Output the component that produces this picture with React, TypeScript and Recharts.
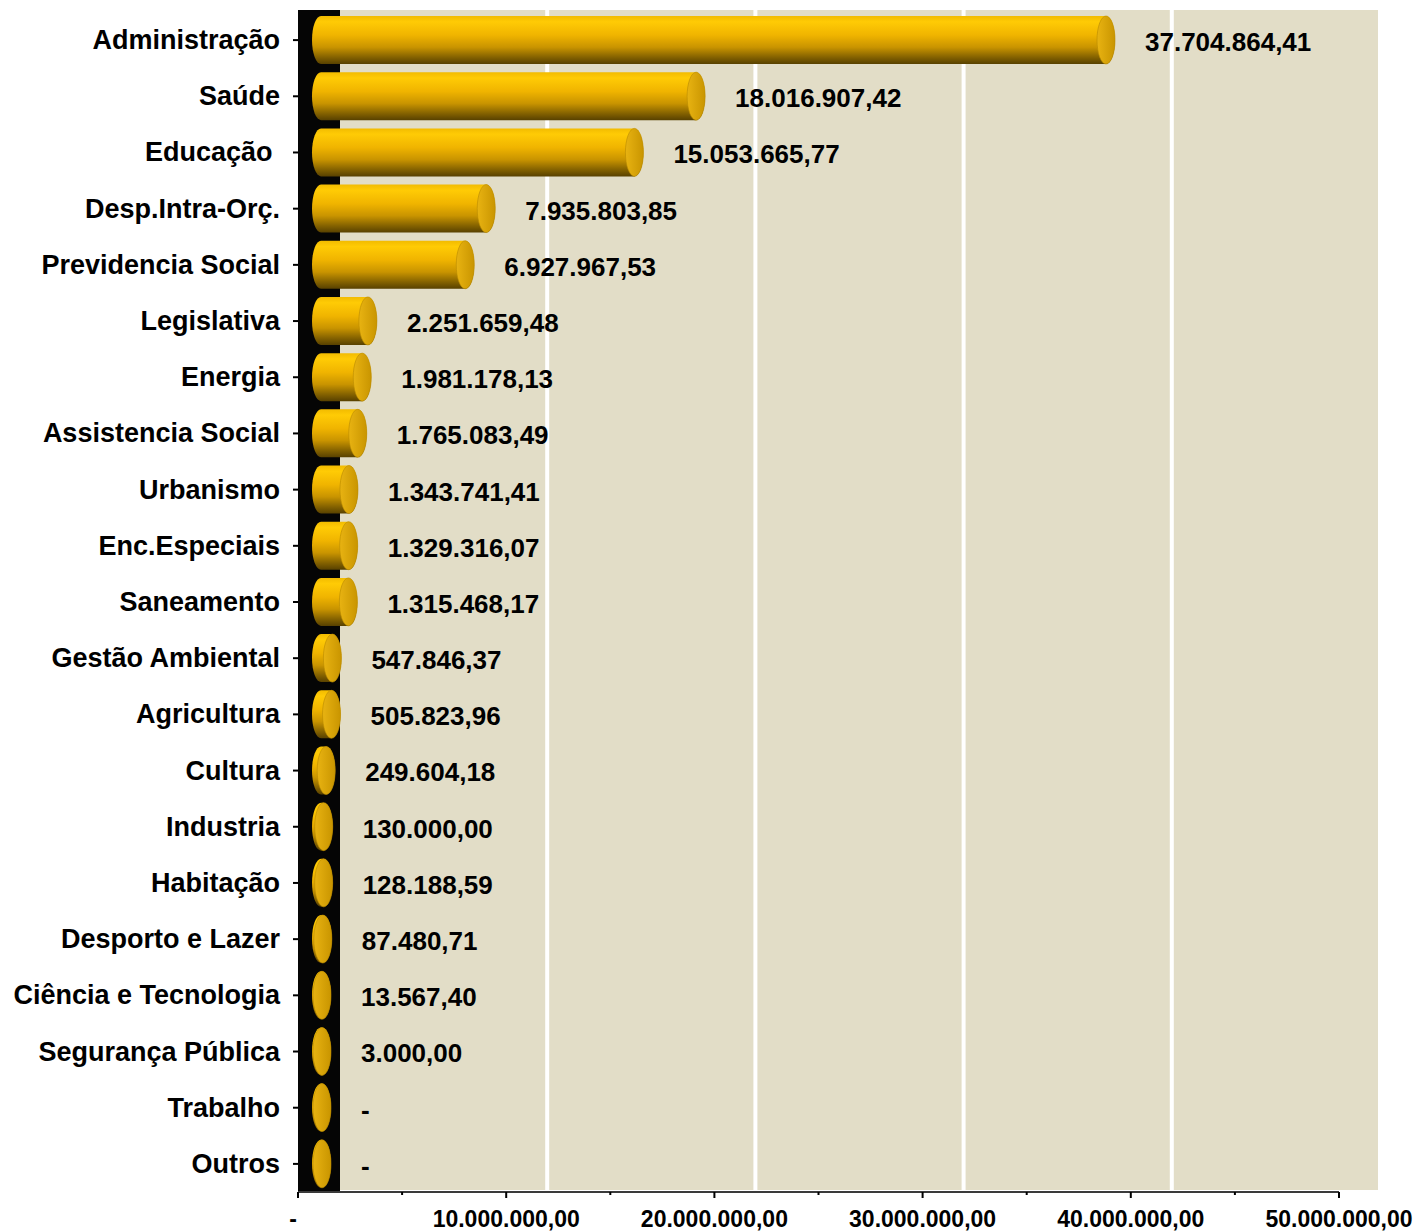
import React from 'react'
import { BarChart, Bar, XAxis, YAxis, CartesianGrid, LabelList } from 'recharts'

const CATEGORIES = [
  'Administração',
  'Saúde',
  'Educação ',
  'Desp.Intra-Orç.',
  'Previdencia Social',
  'Legislativa',
  'Energia',
  'Assistencia Social',
  'Urbanismo',
  'Enc.Especiais',
  'Saneamento',
  'Gestão Ambiental',
  'Agricultura',
  'Cultura',
  'Industria',
  'Habitação',
  'Desporto e Lazer',
  'Ciência e Tecnologia',
  'Segurança Pública',
  'Trabalho',
  'Outros',
]

const VALUES = [
  37704864.41, 18016907.42, 15053665.77, 7935803.85, 6927967.53, 2251659.48, 1981178.13,
  1765083.49, 1343741.41, 1329316.07, 1315468.17, 547846.37, 505823.96, 249604.18, 130000.0,
  128188.59, 87480.71, 13567.4, 3000.0, 0, 0,
]

const X_TICKS = [0, 5e6, 10e6, 15e6, 20e6, 25e6, 30e6, 35e6, 40e6, 45e6, 50e6]
const MAJOR_STEP = 10e6

const data = CATEGORIES.map((name, i) => ({ name, value: VALUES[i] }))

// layout
const W = 1416
const H = 1232
const LEFT = 298
const TOP = 12
const RIGHT = 77
const BOTTOM = 40
const DEPTH = 41 // 3d shift of the back wall
const CYL_SHIFT = 23
const CAP_RX = 9
const FONT = "'Liberation Sans', Arial, Helvetica, sans-serif"

// pt-BR style number: 1.234.567,89
const fmt = (v: number) => {
  if (!v) return '-'
  const [i, d] = v.toFixed(2).split('.')
  return i.replace(/\B(?=(\d{3})+(?!\d))/g, '.') + ',' + d
}

function Cylinder(props: any) {
  const { x, y, width, height } = props
  if (x == null || y == null) return null
  const x0 = x + CYL_SHIFT
  const x1 = x0 + Math.max(width || 0, 0)
  const ry = height / 2
  const cy = y + ry
  const d = `M${x0},${y} L${x1},${y} A${CAP_RX},${ry} 0 0 1 ${x1},${y + height} L${x0},${y + height} A${CAP_RX},${ry} 0 0 1 ${x0},${y} Z`
  return (
    <g>
      <path d={d} fill="url(#cylBody)" />
      <ellipse cx={x1} cy={cy} rx={CAP_RX} ry={ry} fill="url(#cylCap)" stroke="#b98a00" strokeWidth={0.6} />
    </g>
  )
}

function ValueLabel(props: any) {
  const vb = props.viewBox || props
  const x = props.x ?? vb.x
  const y = props.y ?? vb.y
  const width = props.width ?? vb.width ?? 0
  const height = props.height ?? vb.height ?? 0
  const capRight = x + CYL_SHIFT + Math.max(width, 0) + CAP_RX
  const tx = Math.max(capRight + 30, LEFT + 40)
  return (
    <text
      x={tx}
      y={y + height / 2 + 2}
      dominantBaseline="central"
      fontFamily={FONT}
      fontWeight="bold"
      fontSize={26}
      fill="#000"
    >
      {fmt(Number(props.value))}
    </text>
  )
}

function CategoryTick(props: any) {
  const { x, y, payload } = props
  return (
    <text
      x={x}
      y={y}
      textAnchor="end"
      dominantBaseline="central"
      fontFamily={FONT}
      fontWeight="bold"
      fontSize={27}
      fill="#000"
      style={{ whiteSpace: 'pre' }}
    >
      {payload.value}
    </text>
  )
}

function ValueTick(props: any) {
  const { x, y, payload } = props
  const v = payload.value as number
  const major = v % MAJOR_STEP === 0
  return (
    <g>
      <line x1={x} x2={x} y1={y} y2={y + (major ? 6 : 3)} stroke="#000" strokeWidth={2} />
      {major && (
        <text
          x={v === 0 ? x - 5 : x}
          y={y + 35}
          textAnchor="middle"
          fontFamily={FONT}
          fontWeight="bold"
          fontSize={23}
          fill="#000"
        >
          {fmt(v)}
        </text>
      )}
    </g>
  )
}

export default function App() {
  const plotBottom = H - BOTTOM
  return (
    <div style={{ position: 'relative', width: W, height: H, background: '#fff' }}>
      <style>{`body{margin:0}`}</style>
      <svg width={0} height={0} style={{ position: 'absolute' }}>
        <defs>
          <linearGradient id="cylBody" x1="0" y1="0" x2="0" y2="1">
            <stop offset="0%" stopColor="#f2bb00" />
            <stop offset="12%" stopColor="#ffcb05" />
            <stop offset="40%" stopColor="#f0b400" />
            <stop offset="65%" stopColor="#c99400" />
            <stop offset="85%" stopColor="#876400" />
            <stop offset="100%" stopColor="#584100" />
          </linearGradient>
          <linearGradient id="cylCap" x1="0" y1="0" x2="1" y2="0">
            <stop offset="0%" stopColor="#e8b312" />
            <stop offset="100%" stopColor="#c99500" />
          </linearGradient>
        </defs>
      </svg>
      {/* back wall */}
      <div
        style={{
          position: 'absolute',
          left: LEFT + 42,
          top: TOP - 2,
          width: W - RIGHT + DEPTH - 2 - (LEFT + 42),
          height: plotBottom - 2 - (TOP - 2),
          background: '#e2ddc7',
        }}
      />
      {/* side wall */}
      <div
        style={{
          position: 'absolute',
          left: LEFT,
          top: TOP - 2,
          width: 42,
          height: plotBottom - (TOP - 2),
          background: '#050505',
        }}
      />
      <BarChart
        width={W}
        height={H}
        data={data}
        layout="vertical"
        margin={{ top: TOP, right: RIGHT, bottom: 0, left: 0 }}
        barSize={48}
      >
        <CartesianGrid
          horizontal={false}
          vertical={(p: any) => {
            const last = X_TICKS.length - 1
            if (p.index === 0 || p.index >= last || p.index % 2 !== 0) return <g key={p.key} />
            return (
              <line
                key={p.key}
                x1={p.x1 + DEPTH}
                x2={p.x2 + DEPTH}
                y1={p.y1 - 2}
                y2={p.y2 - 2}
                stroke="#ffffff"
                strokeWidth={4}
              />
            )
          }}
        />
        <XAxis
          type="number"
          domain={[0, 50e6]}
          ticks={X_TICKS}
          interval={0}
          height={BOTTOM}
          tickSize={0}
          tickMargin={0}
          tickLine={false}
          axisLine={{ stroke: '#3a3a3a', strokeWidth: 2 }}
          tick={<ValueTick />}
        />
        <YAxis
          type="category"
          dataKey="name"
          width={LEFT}
          interval={0}
          tickSize={5}
          tickMargin={13}
          axisLine={false}
          tickLine={{ stroke: '#000', strokeWidth: 2 }}
          tick={<CategoryTick />}
        />
        <Bar dataKey="value" shape={<Cylinder />} minPointSize={1} isAnimationActive={false}>
          <LabelList dataKey="value" content={<ValueLabel />} />
        </Bar>
      </BarChart>
    </div>
  )
}
